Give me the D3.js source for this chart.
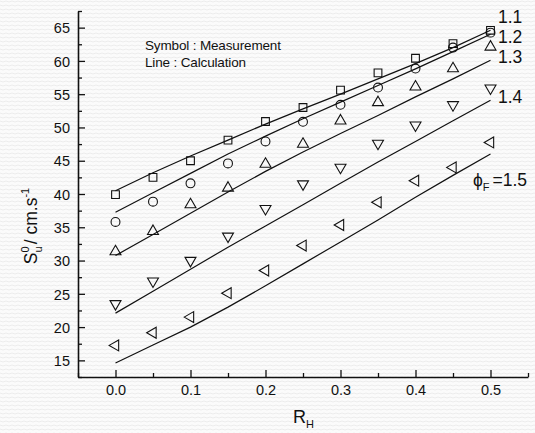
<!DOCTYPE html>
<html><head><meta charset="utf-8">
<script src="https://cdn.jsdelivr.net/npm/d3@7"></script>
<style>
body{margin:0;background:#fff;}
svg{display:block;}
text{font-family:"Liberation Sans",Arial,sans-serif;fill:#111;}
</style></head>
<body>
<script>
// ---- data ----
const xValues = [0, 0.05, 0.1, 0.15, 0.2, 0.25, 0.3, 0.35, 0.4, 0.45, 0.5];
const seriesNames = ["1.1", "1.2", "1.3", "1.4", "1.5"];
const meas11 = [39.9, 42.5, 45.0, 48.1, 50.9, 53.0, 55.6, 58.2, 60.4, 62.6, 64.6];
const meas12 = [35.8, 38.85, 41.6, 44.6, 47.9, 50.85, 53.4, 56.0, 58.85, 62.0, 64.25];
const meas13 = [31.35, 34.4, 38.4, 40.9, 44.5, 47.5, 51.0, 53.75, 56.1, 58.85, 62.1];
const meas14 = [23.5, 26.9, 30.0, 33.65, 37.8, 41.5, 44.0, 47.6, 50.35, 53.4, 55.9];
const meas15 = [17.25, 19.15, 21.5, 25.1, 28.5, 32.25, 35.35, 38.75, 42.0, 44.0, 47.75];
const calc11 = [40.5, 43.2, 45.7, 48.1, 50.5, 52.8, 55.0, 57.3, 59.6, 62.0, 64.6];
const calc12 = [37.25, 40.2, 43.1, 46.0, 48.7, 51.3, 53.8, 56.3, 58.8, 61.4, 64.0];
const calc13 = [30.75, 33.9, 37.1, 40.3, 43.4, 46.3, 49.1, 51.8, 54.6, 57.3, 60.1];
const calc14 = [22.1, 25.4, 28.7, 32.0, 35.2, 38.4, 41.6, 44.8, 47.9, 51.0, 54.1];
const calc15 = [14.6, 17.3, 20.0, 23.0, 26.2, 29.5, 32.8, 36.1, 39.5, 42.8, 46.0];
const xTicks = [0, 0.1, 0.2, 0.3, 0.4, 0.5];
const xMinor = [-0.05, 0.05, 0.15, 0.25, 0.35, 0.45, 0.55];
const yTicks = [15, 20, 25, 30, 35, 40, 45, 50, 55, 60, 65];
const yMinor = [12.5, 17.5, 22.5, 27.5, 32.5, 37.5, 42.5, 47.5, 52.5, 57.5, 62.5, 67.5];
const measured = [meas11, meas12, meas13, meas14, meas15];
const calculated = [calc11, calc12, calc13, calc14, calc15];
const markerTypes = ["square", "circle", "up", "down", "left"];

// ---- layout ----
const W = 535, H = 433;
const m = {left: 78, top: 11, right: 7, bottom: 56};
const svg = d3.select("body").append("svg").attr("width", W).attr("height", H);

// background texture
const defs = svg.append("defs");
const pat = defs.append("pattern").attr("id", "bgpat").attr("width", 6).attr("height", 4)
  .attr("patternUnits", "userSpaceOnUse");
pat.append("rect").attr("width", 6).attr("height", 4).attr("fill", "#fbfbfb");
pat.append("path").attr("d", "M0,1 L3,2 L6,1").attr("stroke", "#ececec").attr("stroke-width", 1).attr("fill", "none");
svg.append("rect").attr("width", W).attr("height", H).attr("fill", "url(#bgpat)");

const x = d3.scaleLinear().domain([-0.05, 0.55]).range([m.left, W - m.right]);
const y = d3.scaleLinear().domain([12.5, 67.5]).range([H - m.bottom, m.top]);

// axes
const gx = svg.append("g").attr("transform", `translate(0,${H - m.bottom})`)
  .call(d3.axisBottom(x).tickValues(xTicks).tickFormat(d3.format(".1f")).tickSizeInner(-7).tickSizeOuter(0).tickPadding(8));
gx.append("g").call(d3.axisBottom(x).tickValues(xMinor).tickFormat("").tickSizeInner(-4).tickSizeOuter(0))
  .select(".domain").remove();
const gy = svg.append("g").attr("transform", `translate(${m.left},0)`)
  .call(d3.axisLeft(y).tickValues(yTicks).tickSizeInner(-7).tickSizeOuter(0).tickPadding(8));
gy.append("g").call(d3.axisLeft(y).tickValues(yMinor).tickFormat("").tickSizeInner(-4).tickSizeOuter(0))
  .select(".domain").remove();
[gx, gy].forEach(g => {
  g.selectAll(".domain").attr("stroke", "#111").attr("stroke-width", 1.6);
  g.selectAll(".tick line").attr("stroke", "#111").attr("stroke-width", 1.3);
  g.selectAll(".tick text").attr("font-size", 14.5).attr("fill", "#111")
    .attr("font-family", "'Liberation Sans', Arial, sans-serif");
});
gy.selectAll(".tick text").attr("dy", "0.36em");

// calculated lines
const line = d3.line().x((d, i) => x(xValues[i])).y(d => y(d));
calculated.forEach(s => {
  svg.append("path").datum(s).attr("d", line).attr("fill", "none")
    .attr("stroke", "#111").attr("stroke-width", 1.2);
});

// markers
const sym = {
  square: d3.symbol().type(d3.symbolSquare).size(60),
  circle: d3.symbol().type(d3.symbolCircle).size(62),
  up: d3.symbol().type(d3.symbolTriangle).size(52),
};
measured.forEach((s, k) => {
  const type = markerTypes[k];
  const g = svg.append("g");
  g.selectAll("path").data(s).join("path")
    .attr("d", type === "down" || type === "left" ? sym.up() : sym[type]())
    .attr("transform", (d, i) => {
      let t = `translate(${x(xValues[i])},${y(d)})`;
      if (type === "down") t += " rotate(180)";
      if (type === "left") t += " rotate(-90)";
      return t;
    })
    .attr("fill", "none").attr("stroke", "#111").attr("stroke-width", 1.1);
});

// series labels
const labelPos = [[498, 23], [498, 43], [498, 63], [498, 103]];
labelPos.forEach((p, i) => {
  svg.append("text").attr("x", p[0]).attr("y", p[1]).attr("font-size", 17.5).text(seriesNames[i]);
});
const lab5 = svg.append("text").attr("x", 473).attr("y", 186).attr("font-size", 17.5);
lab5.append("tspan").text("\u03D5");
lab5.append("tspan").attr("font-size", 11).attr("dy", 5).text("F");
lab5.append("tspan").attr("dy", -5).attr("dx", 3).text("=" + seriesNames[4]);

// annotation
svg.append("text").attr("x", 145).attr("y", 49.5).attr("font-size", 13.5).attr("letter-spacing", -0.15).text("Symbol : Measurement");
svg.append("text").attr("x", 145).attr("y", 66.5).attr("font-size", 13.5).attr("letter-spacing", -0.15).text("Line : Calculation");

// axis titles
const xt = svg.append("text").attr("x", 293).attr("y", 423).attr("font-size", 18);
xt.append("tspan").text("R");
xt.append("tspan").attr("font-size", 11).attr("dy", 5).text("H");

const yt = svg.append("text").attr("transform", "translate(37,226) rotate(-90)")
  .attr("text-anchor", "middle").attr("font-size", 17.5);
yt.append("tspan").text("S");
yt.append("tspan").attr("font-size", 11).attr("dy", -8).attr("dx", 0).text("0");
yt.append("tspan").attr("font-size", 11).attr("dy", 13).attr("dx", -6).text("u");
yt.append("tspan").attr("dy", -5).attr("dx", 2).text("/ cm.s");
yt.append("tspan").attr("font-size", 11).attr("dy", -8).text("-1");
</script>
</body></html>
